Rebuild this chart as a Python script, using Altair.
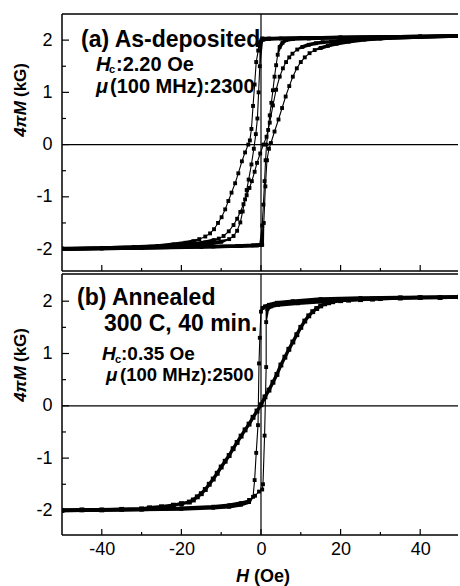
import altair as alt
import pandas as pd

# ---------------- panel (a) As-deposited : H (Oe), 4piM (kG) ----------------
a_desc_outer_H = [50, 40, 30, 20, 10, 5, 2, 0.5, -0.2, -0.7, -1.2, -1.6, -2.0, -2.4, -2.8, -3.2, -4.0, -4.8,
                  -5.7, -6.5, -7.4, -8.2, -9.0, -9.9, -10.8, -11.8, -12.8, -14.0, -15.5, -17.0, -19.0, -22.0,
                  -26.0, -32.0, -40.0, -50.0]
a_desc_outer_M = [2.08, 2.07, 2.06, 2.05, 2.04, 2.03, 2.02, 2.01, 1.96, 1.80, 1.58, 1.15, 0.74, 0.30, 0.08, 0.0,
                  -0.15, -0.32, -0.55, -0.74, -0.92, -1.08, -1.24, -1.39, -1.50, -1.62, -1.70, -1.76, -1.81,
                  -1.85, -1.88, -1.91, -1.94, -1.96, -1.98, -2.0]

a_desc_inner_H = [50, 30, 10, 2, 0.3, 0.1, -0.3, -0.6, -0.9, -1.3, -1.8, -2.4, -3.1, -3.6, -4.0, -4.6, -5.2,
                  -6.0, -6.9, -8.0, -10.0, -13.0, -18.0, -25.0, -35.0, -50.0]
a_desc_inner_M = [2.08, 2.06, 2.04, 2.03, 2.03, 2.0, 1.5, 1.0, 0.5, 0.2, -0.08, -0.38, -0.67, -0.87, -1.05,
                  -1.28, -1.49, -1.65, -1.75, -1.81, -1.86, -1.9, -1.93, -1.96, -1.98, -2.0]

a_mid_H = [-50, -40, -30, -22, -17, -14, -11.9, -10.6, -9.4, -8.1, -6.9, -6.0, -5.2, -4.4, -3.6, -2.9, -2.3,
           -1.6, -1.0, -0.2, 0.6, 1.4, 2.2, 3.0, 3.8, 4.7, 5.5, 6.3, 7.1, 7.9, 9.1, 10.4, 12.0, 13.8, 15.5,
           17.6, 20, 24, 30, 40, 50]
a_mid_M = [-1.99, -1.98, -1.96, -1.93, -1.9, -1.87, -1.83, -1.8, -1.75, -1.66, -1.54, -1.42, -1.29, -1.14,
           -0.97, -0.83, -0.7, -0.52, -0.35, -0.17, 0.0, 0.15, 0.42, 0.75, 1.05, 1.3, 1.46, 1.58, 1.67, 1.74,
           1.82, 1.87, 1.91, 1.94, 1.96, 1.97, 1.99, 2.01, 2.03, 2.06, 2.08]

a_asc_inner_H = [-50, -40, -30, -20, -12, -6, -2, 0.0, 0.3, 0.6, 0.9, 1.15, 1.4, 1.8, 2.2, 2.6, 3.0, 3.4, 3.8,
                 4.2, 4.7, 5.4, 6.3, 8, 12, 20, 30, 40, 50]
a_asc_inner_M = [-2.0, -1.99, -1.98, -1.96, -1.95, -1.94, -1.93, -1.92, -1.55, -1.15, -0.7, -0.3, 0.0, 0.28,
                 0.56, 0.8, 1.04, 1.3, 1.52, 1.72, 1.87, 1.95, 2.0, 2.02, 2.03, 2.05, 2.06, 2.07, 2.08]

a_asc_outer_H = [-50, -30, -15, -5, -1, 0.3, 0.7, 1.1, 1.5, 2.0, 2.5, 3.4, 4.4, 5.3, 6.2, 7.1, 8.0, 9.0, 10.0,
                 11.0, 12.2, 13.5, 15.0, 16.8, 19.0, 22, 26, 32, 40, 50]
a_asc_outer_M = [-2.0, -1.98, -1.96, -1.94, -1.93, -1.92, -1.5, -0.8, -0.3, -0.08, 0.03, 0.25, 0.48, 0.7, 0.92,
                 1.12, 1.3, 1.46, 1.58, 1.67, 1.75, 1.81, 1.85, 1.89, 1.93, 1.97, 2.01, 2.04, 2.06, 2.08]

# ---------------- panel (b) Annealed 300 C, 40 min ----------------
b_easy_desc_H = [50, 35, 25, 15, 8, 4, 2, 1, 0.4, 0.0, -0.3, -0.5, -0.75, -1.2, -1.6, -2.0, -3, -5, -8, -12,
                 -20, -30, -40, -50]
b_easy_desc_M = [2.08, 2.07, 2.06, 2.04, 2.0, 1.97, 1.93, 1.9, 1.87, 1.8, 1.3, 0.81, -0.37, -0.9, -1.42, -1.74,
                 -1.84, -1.89, -1.93, -1.95, -1.97, -1.98, -1.99, -2.0]

b_easy_asc_H = [-50, -30, -20, -12, -8, -5, -3, -1.5, -0.5, 0.3, 0.5, 0.9, 1.3, 1.3, 1.6, 2.5, 4.3, 9.3, 16.8,
                25, 35, 50]
b_easy_asc_M = [-2.0, -1.98, -1.96, -1.93, -1.9, -1.86, -1.8, -1.72, -1.64, -1.6, -1.5, -0.57, 0.74, 1.6, 1.85,
                1.9, 1.93, 1.96, 2.0, 2.04, 2.06, 2.08]

b_hard_H = [-50, -45, -40, -35, -30, -28, -25, -22, -20, -18, -17, -16, -15, -14, -13, -12, -11, -10, -9, -8,
            -7, -6, -5, -4, -3, -2, -1, 0, 1, 2, 3, 4, 5, 6, 7, 8, 9, 10, 11, 12, 13, 14, 15, 16, 17, 18, 20,
            22, 25, 28, 30, 35, 40, 45, 50]
b_hard_M = [-2.0, -1.99, -1.99, -1.98, -1.97, -1.95, -1.93, -1.9, -1.87, -1.84, -1.8, -1.74, -1.68, -1.6, -1.5,
            -1.4, -1.29, -1.17, -1.06, -0.95, -0.82, -0.7, -0.58, -0.46, -0.35, -0.22, -0.1, 0.02, 0.17, 0.3,
            0.45, 0.6, 0.78, 0.93, 1.08, 1.22, 1.36, 1.5, 1.62, 1.72, 1.8, 1.86, 1.91, 1.95, 1.97, 1.99, 2.01,
            2.02, 2.03, 2.04, 2.05, 2.06, 2.07, 2.07, 2.08]

# axis ticks / labels
x_major = [-40, -20, 0, 20, 40]
x_minor = [-30, -10, 10, 30]
y_major = [-2, -1, 0, 1, 2]
y_minor = [-1.5, -0.5, 0.5, 1.5]

curves_a = {
    "a_desc_outer": (a_desc_outer_H, a_desc_outer_M),
    "a_desc_inner": (a_desc_inner_H, a_desc_inner_M),
    "a_mid": (a_mid_H, a_mid_M),
    "a_asc_inner": (a_asc_inner_H, a_asc_inner_M),
    "a_asc_outer": (a_asc_outer_H, a_asc_outer_M),
}
curves_b = {
    "b_easy_desc": (b_easy_desc_H, b_easy_desc_M),
    "b_easy_asc": (b_easy_asc_H, b_easy_asc_M),
    "b_hard": (b_hard_H, b_hard_M),
}


def to_df(curves):
    rows = []
    for name, (hs, ms) in curves.items():
        for i, (h, m) in enumerate(zip(hs, ms)):
            rows.append({"series": name, "i": i, "H": h, "M": m})
    return pd.DataFrame(rows)


FONT = "Liberation Sans"
PW = 396
XDOM = [-50, 49.5]


def label(text, x, y, size, style="normal", angle=0, align="left"):
    kw = dict(align=align, baseline="alphabetic", font=FONT, fontSize=size, fontWeight="bold",
              fontStyle=style, color="black")
    if angle:
        kw["angle"] = angle
    return alt.Chart(pd.DataFrame({"t": [text]})).mark_text(**kw).encode(
        text="t:N", x=alt.value(x), y=alt.value(y))


def frame(height):
    d = pd.DataFrame({"k": [0]})
    left = alt.Chart(d).mark_rule(color="black", strokeWidth=1.5).encode(
        x=alt.value(0), y=alt.value(0), y2=alt.value(height))
    topl = alt.Chart(d).mark_rule(color="black", strokeWidth=1.5).encode(
        x=alt.value(0), x2=alt.value(PW), y=alt.value(0))
    bot = alt.Chart(d).mark_rule(color="black", strokeWidth=1.5).encode(
        x=alt.value(0), x2=alt.value(PW), y=alt.value(height))
    return [left, topl, bot]


def panel(df, dom, height, xlabels, texts):
    yaxis = alt.Axis(values=y_major, ticks=False, domain=False, grid=False, labelPadding=10, title=None,
                     labelExpr="'' + datum.value", labelFont=FONT, labelFontSize=18, labelColor="black")
    if xlabels:
        xaxis = alt.Axis(values=x_major, ticks=False, domain=False, grid=False, labelPadding=5, title=None,
                         labelExpr="'' + datum.value", labelFlush=False, labelFont=FONT, labelFontSize=18,
                         labelColor="black")
    else:
        xaxis = None

    def X(field):
        return alt.X(f"{field}:Q", scale=alt.Scale(domain=XDOM, nice=False, zero=False), axis=xaxis)

    def Y(field):
        return alt.Y(f"{field}:Q", scale=alt.Scale(domain=dom, nice=False, zero=False), axis=yaxis)

    base = alt.Chart(df)
    trail = base.transform_calculate(
        w="datum.series == 'b_hard' ? 3.4 : (abs(datum.M) > 1.82 ? 3.6 : 1.1)"
    ).mark_trail(color="black", clip=True).encode(
        x=X("H"), y=Y("M"), detail="series:N", order="i:Q",
        size=alt.Size("w:Q", scale=None, legend=None))
    pts = base.transform_calculate(
        s="datum.series == 'b_hard' ? 24 : 15"
    ).mark_point(shape="square", filled=True, color="black", opacity=1, clip=True).encode(
        x=X("H"), y=Y("M"), size=alt.Size("s:Q", scale=None, legend=None))
    zv = alt.Chart(pd.DataFrame({"H": [0]})).mark_rule(color="black", strokeWidth=1.2).encode(x=X("H"))
    zh = alt.Chart(pd.DataFrame({"M": [0]})).mark_rule(color="black", strokeWidth=1.2).encode(y=Y("M"))
    xtM = alt.Chart(pd.DataFrame({"H": x_major})).mark_rule(color="black", strokeWidth=1.2).encode(
        x=X("H"), y=alt.value(height), y2=alt.value(height - 6))
    xtm = alt.Chart(pd.DataFrame({"H": x_minor})).mark_rule(color="black", strokeWidth=1.2).encode(
        x=X("H"), y=alt.value(height), y2=alt.value(height - 3))
    ytM = alt.Chart(pd.DataFrame({"M": y_major})).mark_rule(color="black", strokeWidth=1.2).encode(
        y=Y("M"), x=alt.value(0), x2=alt.value(7))
    ytm = alt.Chart(pd.DataFrame({"M": y_minor})).mark_rule(color="black", strokeWidth=1.2).encode(
        y=Y("M"), x=alt.value(0), x2=alt.value(4))
    layers = [trail, pts, zv, zh, xtM, xtm, ytM, ytm] + frame(height) + texts
    return alt.layer(*layers).properties(width=PW, height=height)


texts_a = [
    label("(a) As-deposited", 19, 33, 23),
    label("H", 34, 57, 20, "italic"),
    label("c", 47, 59, 11),
    label(":2.20 Oe", 54, 57, 20),
    label("\u03bc", 34, 79, 20, "italic"),
    label("(100 MHz):2300", 48, 79, 20),
    label("4\u03c0M", -36, 105, 17, "italic", 270, "center"),
    label("(kG)", -36, 66, 17, "normal", 270, "center"),
]
texts_b = [
    label("(b) Annealed", 15, 31, 23),
    label("300 C, 40 min.", 42, 57, 23),
    label("H", 40, 86, 19, "italic"),
    label("c", 53, 89, 11),
    label(":0.35 Oe", 59, 86, 19),
    label("\u03bc", 44, 107, 19, "italic"),
    label("(100 MHz):2500", 58, 107, 18.5),
    label("4\u03c0M", -36, 110, 17, "italic", 270, "center"),
    label("(kG)", -36, 71, 17, "normal", 270, "center"),
    label("H", 174, 308, 18, "italic"),
    label("(Oe)", 192, 308, 18),
]

top = panel(to_df(curves_a), [-2.42, 2.5], 257, False, texts_a)
bottom = panel(to_df(curves_b), [-2.47, 2.52], 261, True, texts_b)

chart = alt.vconcat(top, bottom, spacing=3, bounds="flush").properties(
    padding={"left": 12, "top": 13, "right": 0, "bottom": 0}, background="white"
).configure_view(strokeWidth=0)

chart.save("out.html", embed_options={"renderer": "svg", "actions": False})
